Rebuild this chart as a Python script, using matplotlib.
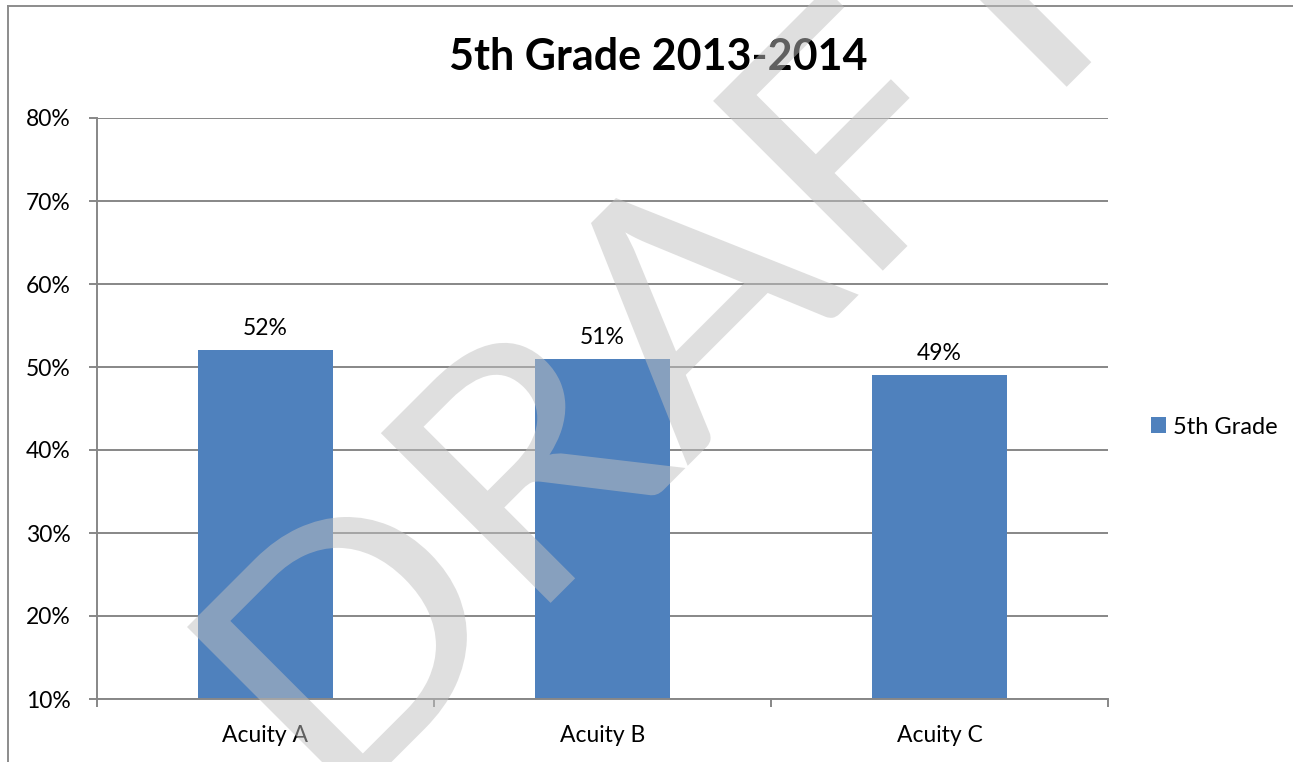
import matplotlib
matplotlib.use("Agg")
import matplotlib.pyplot as plt
from matplotlib.textpath import TextPath
from matplotlib.font_manager import FontProperties
from matplotlib.patches import PathPatch
from matplotlib.transforms import Affine2D, IdentityTransform
from matplotlib.lines import Line2D
from matplotlib.ticker import FuncFormatter

plt.rcParams.update({
    "font.family": ["Lato", "DejaVu Sans"],
    "font.size": 16.5,
})

# data
categories = ["Acuity A", "Acuity B", "Acuity C"]
values = [0.52, 0.51, 0.49]
series_name = "5th Grade"
title = "5th Grade 2013-2014"
y_ticks = [0.1, 0.2, 0.3, 0.4, 0.5, 0.6, 0.7, 0.8]

BAR_COLOR = "#4F81BD"
LINE_GRAY = "#878787"
W, H = 1293, 762

fig = plt.figure(figsize=(W / 100, H / 100), dpi=100)
ax = fig.add_axes([97 / W, (H - 699) / H, 1011 / W, 581 / H])

x = list(range(len(categories)))
bars = ax.bar(x, values, width=0.4, color=BAR_COLOR, label=series_name, zorder=2)

ax.set_xlim(-0.5, len(categories) - 0.5)
ax.set_ylim(0.1, 0.8)
ax.set_yticks(y_ticks)
ax.yaxis.set_major_formatter(FuncFormatter(lambda v, _: f"{v * 100:.0f}%"))
ax.set_axisbelow(True)
ax.grid(axis="y", color=LINE_GRAY, linewidth=1.4)

# category labels in the middle, tick marks on the boundaries
ax.set_xticks(x)
ax.set_xticklabels(categories)
ax.tick_params(axis="x", which="major", length=0, pad=19)
ax.set_xticks([i - 0.5 for i in range(len(categories) + 1)], minor=True)
ax.tick_params(axis="x", which="minor", length=6, width=1.4, color=LINE_GRAY, direction="out")
ax.tick_params(axis="y", length=6, width=1.4, color=LINE_GRAY, direction="out", pad=13)

for side in ("top", "right"):
    ax.spines[side].set_visible(False)
for side in ("left", "bottom"):
    ax.spines[side].set_color(LINE_GRAY)
    ax.spines[side].set_linewidth(1.4)

for rect, v in zip(bars, values):
    ax.annotate(f"{v * 100:.0f}%", (rect.get_x() + rect.get_width() / 2, v),
                xytext=(0, 8), textcoords="offset points", ha="center", va="bottom")

fig.text(658 / W, (H - 57) / H, title, ha="center", va="center",
         fontsize=31, fontweight="bold")

ax.legend(loc="center left", bbox_to_anchor=(1151 / W, (H - 427) / H),
          bbox_transform=fig.transFigure, frameon=False, borderpad=0,
          borderaxespad=0, handlelength=0.65, handleheight=0.65, handletextpad=0.3,
          fontsize=17)

# outer chart frame (right and bottom edges fall outside the picture)
fig.add_artist(Line2D([8, 8], [0, H - 6], transform=IdentityTransform(), color="#8C8C8C", lw=1.4))
fig.add_artist(Line2D([8, W], [H - 6, H - 6], transform=IdentityTransform(), color="#8C8C8C", lw=1.4))

# DRAFT watermark, drawn across everything
fp = FontProperties(family="Lato")
tp = TextPath((0, 0), "DRAFT", size=335, prop=fp)
ext = tp.get_extents()
tr = Affine2D().translate(-ext.x0, -ext.y1).scale(1.076, 1.0).rotate_deg(45).translate(187, H - 627)
wm = PathPatch(tr.transform_path(tp), facecolor="#C0C0C0", edgecolor="none", alpha=0.5,
               transform=IdentityTransform(), zorder=10)
fig.add_artist(wm)

fig.savefig("out.png", dpi=100)
